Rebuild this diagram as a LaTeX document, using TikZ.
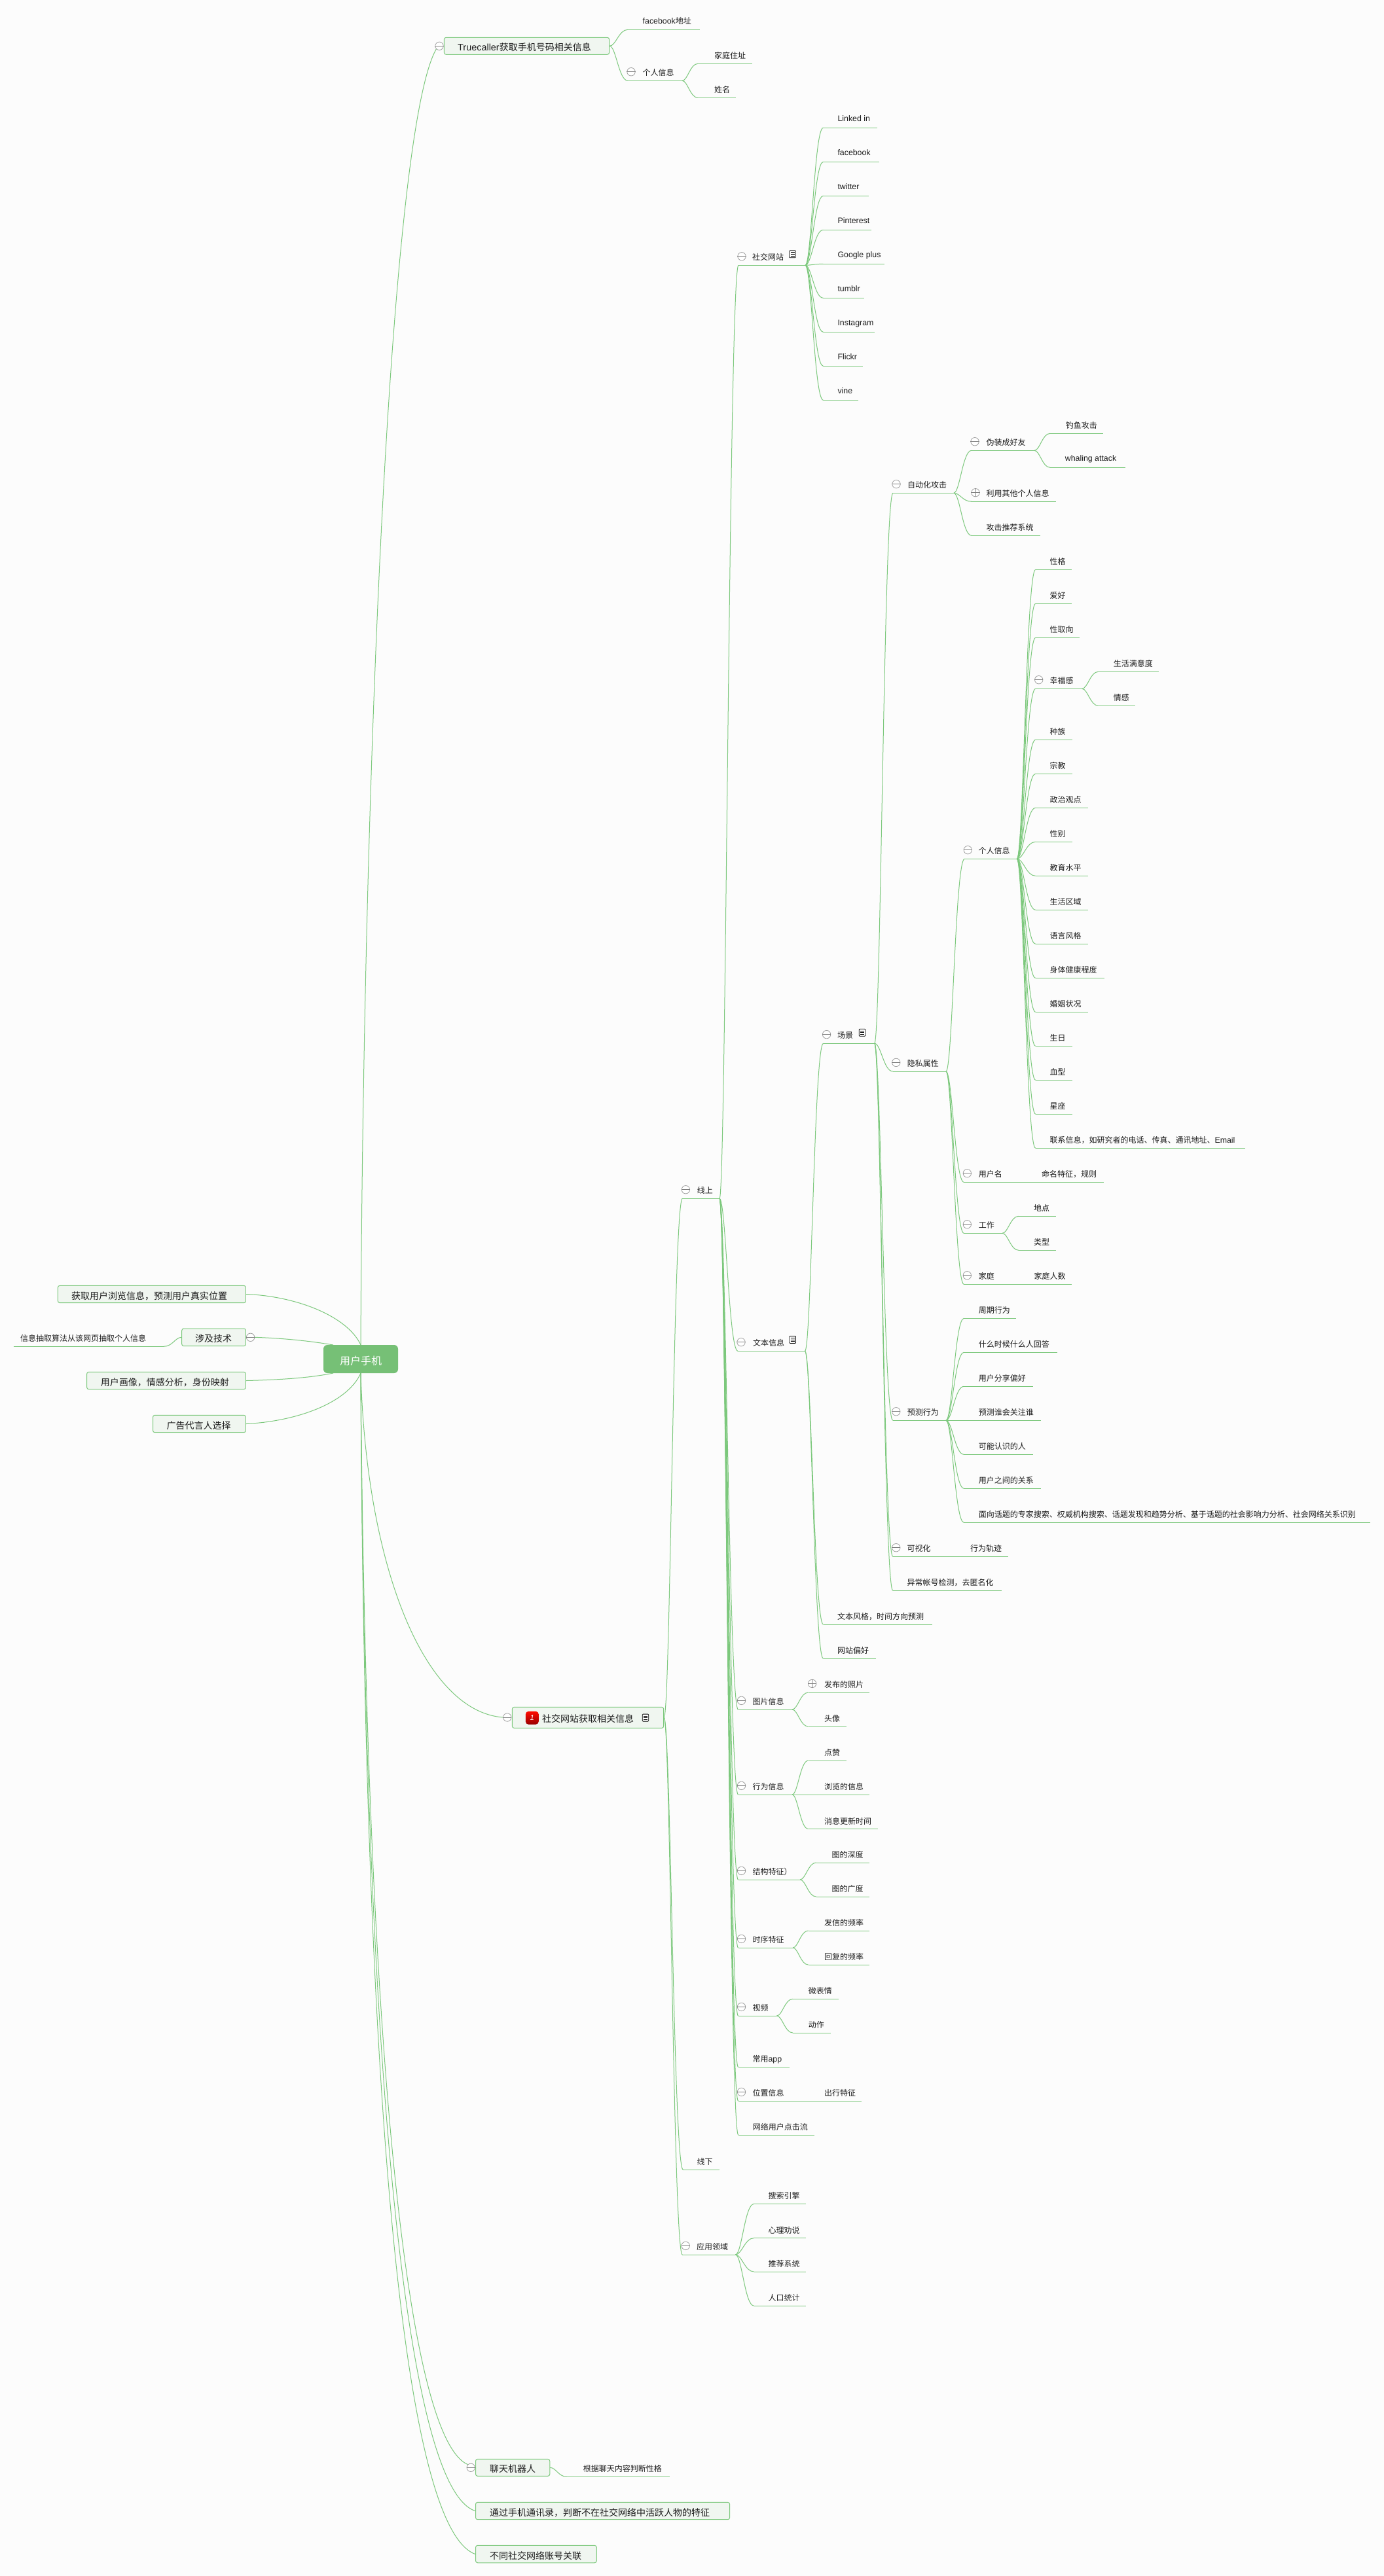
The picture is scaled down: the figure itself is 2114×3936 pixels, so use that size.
\documentclass[tikz,border=0pt]{standalone}
\usepackage{fontspec}
\usetikzlibrary{calc,fit}
\newfontfamily\cjk{Noto Sans CJK SC}
\newfontfamily\latf[Scale=1.03]{Liberation Sans}
\newcommand\lat[1]{{\latf #1}}
\definecolor{pagebg}{HTML}{FCFCFC}
\definecolor{lnk}{HTML}{7CC87C}
\definecolor{boxfill}{HTML}{F0F6F0}
\definecolor{rootfill}{HTML}{76C076}
\definecolor{ink}{HTML}{1C1C1C}
\definecolor{foldgray}{HTML}{A0A0A0}
\pgfdeclarelayer{back}
\pgfdeclarelayer{conn}
\pgfsetlayers{back,conn,main}
\tikzset{
  ul/.style={draw=lnk,line width=1pt},
  cn/.style={draw=lnk,line width=1pt},
  lab/.style={anchor=west,inner sep=0pt,font=\cjk\fontsize{12}{14}\selectfont,text=ink,text height=10pt,text depth=2pt},
  labbig/.style={anchor=west,inner sep=0pt,font=\cjk\fontsize{14}{16}\selectfont,text=ink,text height=11.5pt,text depth=2.5pt},
  boxn/.style={draw=lnk,fill=boxfill,line width=1pt,rounded corners=3pt,inner sep=0pt},
  rootn/.style={fill=rootfill,rounded corners=6pt,inner sep=0pt,minimum width=114pt,minimum height=43pt,text=white,font=\cjk\fontsize{16}{18}\selectfont,text height=18pt,text depth=0.8pt},
  foldn/.style={circle,draw=foldgray,fill=white,line width=.8pt,minimum size=12.4pt,inner sep=0pt},
  foldl/.style={draw=foldgray!80!black,line width=.8pt},
  noten/.style={draw=black,fill=white,line width=.8pt,rounded corners=1pt,minimum width=9.5pt,minimum height=11pt,inner sep=0pt},
  badge/.style={rounded corners=4.5pt,top color=red!90!orange,bottom color=red!60!black,minimum size=20pt,inner sep=0pt,text=white,font=\latf\itshape\fontsize{11}{12}\selectfont},
}
% topic with underline: [text offset]{name}{left}{right}{y}{text x}{text}
\newcommand\tp[7][11.5]{%
  \coordinate (#2-l) at (#3,#5);
  \coordinate (#2-r) at (#4,#5);
  \draw[ul] (#2-l) -- (#2-r);
  \node[lab] (#2) at (#6,{#5-#1}) {#7};
}
% framed box: {name}{x0}{x1}{y0}{y1}{text x}{text}
\newcommand\bx[7]{%
  \node[boxn,fit={(#2,#4)(#3,#5)}] (#1) {};
  \coordinate (#1-l) at (#1.west);
  \coordinate (#1-r) at (#1.east);
  \node[labbig] (#1-t) at (#6,{(#4+#5)/2+3}) {#7};
}
% curve between any two coordinates
\newcommand\cv[2]{%
  \begin{pgfonlayer}{conn}
  \draw[cn] let \p1=(#1),\p2=(#2),\n1={\x2-\x1} in
    (\p1) .. controls (\x1+0.35*\n1,\y1) and (\x1+0.5*\n1,\y2) .. (\p2);
  \end{pgfonlayer}%
}
\newcommand\conn[2]{\cv{#1-r}{#2-l}}
\newcommand\foldat[3]{%
  \node[foldn] (#1-c) at (#2,#3) {};
  \draw[foldl] (#1-c.west) -- (#1-c.east);
}
\newcommand\fold[1]{%
  \node[foldn] (#1-c) at ($(#1-l)+(5,-13.6)$) {};
  \draw[foldl] (#1-c.west) -- (#1-c.east);
}
\newcommand\unfold[1]{%
  \node[foldn] (#1-c) at ($(#1-l)+(6,-13.6)$) {};
  \draw[foldl] (#1-c.west) -- (#1-c.east);
  \draw[foldl] (#1-c.north) -- (#1-c.south);
}
\newcommand\noteicon[3]{%
  \node[noten] (#1) at (#2,#3) {};
  \draw[black,line width=.7pt] ($(#1.center)+(-3,-2.6)$) -- ($(#1.center)+(3,-2.6)$);
  \draw[black,line width=.7pt] ($(#1.center)+(-3,0)$) -- ($(#1.center)+(3,0)$);
  \draw[black,line width=.7pt] ($(#1.center)+(-3,2.6)$) -- ($(#1.center)+(3,2.6)$);
}
\begin{document}
\begin{tikzpicture}[x=1pt,y=-1pt]
\useasboundingbox (0,0) rectangle (2114,3936);
\begin{pgfonlayer}{back}
\fill[pagebg] (0,0) rectangle (2114,3936);
\end{pgfonlayer}

% root
\node[rootn] (root) at (551,2076.5) {用户手机};

% left side
\bx{a}{88.4}{375.4}{1964.3}{1990.7}{109}{获取用户浏览信息，预测用户真实位置}
\bx{b}{277.7}{375.4}{2030}{2056.7}{298}{涉及技术}
\bx{c}{132.6}{375.4}{2096.3}{2122.7}{153.6}{用户画像，情感分析，身份映射}
\bx{d}{233.5}{375.4}{2162.3}{2188.7}{254.5}{广告代言人选择}
\foldat{b}{382.6}{2043.3}
\tp{bleaf}{20.5}{250}{2057.3}{31}{信息抽取算法从该网页抽取个人信息}
\cv{b.west}{bleaf-r}
\begin{pgfonlayer}{conn}
\draw[cn] (a.east) .. controls (450,1980) and (530,2010) .. (root.north);
\draw[cn] (b-c.east) .. controls (440,2045) and (480,2050) .. (509,2055);
\draw[cn] (c.east) .. controls (440,2108) and (480,2104) .. (509,2098);
\draw[cn] (d.east) .. controls (450,2172) and (530,2145) .. (root.south);
\end{pgfonlayer}

% Truecaller
\bx{tc}{678.4}{930.6}{57.3}{83.3}{699}{\lat{Truecaller}获取手机号码相关信息}
\foldat{tc}{671}{70.3}
\begin{pgfonlayer}{conn}
\draw[cn] (root.north) .. controls (555,1200) and (595,200) .. (tc-c.south west);
\end{pgfonlayer}
\tp[13]{fbaddr}{959}{1068.6}{45.3}{981.5}{\lat{facebook}地址}
\tp{tcp}{959}{1042}{123.3}{981.5}{个人信息}
\fold{tcp}
\tp{tchome}{1066}{1149}{97.3}{1091}{家庭住址}
\tp{tcname}{1066}{1124}{149.3}{1091}{姓名}
\conn{tc}{fbaddr}\conn{tc}{tcp}\conn{tcp}{tchome}\conn{tcp}{tcname}

% social network box
\bx{sn}{782.4}{1013.7}{2608.3}{2640.4}{828}{社交网站获取相关信息}
\foldat{sn}{774.8}{2624}
\node[badge] (snbadge) at (812.8,2624.8) {1};
\noteicon{snnote}{986}{2624.6}
\begin{pgfonlayer}{conn}
\draw[cn] (root.south) .. controls (560,2400) and (650,2615) .. (sn-c.west);
\end{pgfonlayer}

% online
\tp{xs}{1042.4}{1099}{1831.3}{1064.7}{线上}\fold{xs}
\tp{xx}{1043.3}{1098.7}{3315}{1064.3}{线下}
\tp{yy}{1042.3}{1123.3}{3445}{1064}{应用领域}\fold{yy}
\conn{sn}{xs}\conn{sn}{xx}\conn{sn}{yy}

% social sites
\tp{sw}{1128}{1230}{405.3}{1149}{社交网站}\fold{sw}
\noteicon{swnote}{1210.5}{388.3}
\conn{xs}{sw}
\tp[13.5]{s1}{1257.4}{1340}{195.3}{1279.3}{\lat{Linked in}}
\tp[13.5]{s2}{1257.4}{1343}{247.3}{1279.3}{\lat{facebook}}
\tp[13.5]{s3}{1257.4}{1326.6}{299.3}{1279.3}{\lat{twitter}}
\tp[13.5]{s4}{1257.4}{1331}{351.3}{1279.3}{\lat{Pinterest}}
\tp[13.5]{s5}{1257.4}{1351}{403.3}{1279.3}{\lat{Google plus}}
\tp[13.5]{s6}{1257.4}{1320}{455.3}{1279.3}{\lat{tumblr}}
\tp[13.5]{s7}{1257.4}{1336}{507.3}{1279.3}{\lat{Instagram}}
\tp[13.5]{s8}{1257.4}{1318}{559.3}{1279.3}{\lat{Flickr}}
\tp[13.5]{s9}{1257.4}{1311}{611.3}{1279.3}{\lat{vine}}
\conn{sw}{s1}\conn{sw}{s2}\conn{sw}{s3}\conn{sw}{s4}\conn{sw}{s5}\conn{sw}{s6}\conn{sw}{s7}\conn{sw}{s8}\conn{sw}{s9}

% text info
\tp{wb}{1127}{1229.5}{2064.3}{1150}{文本信息}\fold{wb}
\noteicon{wbnote}{1210.7}{2047}
\conn{xs}{wb}
\tp{cj}{1257.6}{1335.7}{1594.2}{1279}{场景}\fold{cj}
\noteicon{cjnote}{1317}{1577.7}
\tp{wbfg}{1257.6}{1423.5}{2482.3}{1279}{文本风格，时间方向预测}
\tp{wzph}{1257.6}{1338}{2534.3}{1279}{网站偏好}
\conn{wb}{cj}\conn{wb}{wbfg}\conn{wb}{wzph}

% scenario
\tp{zdh}{1364}{1456.7}{753.3}{1386}{自动化攻击}\fold{zdh}
\tp{ys}{1363.8}{1445}{1637}{1385.7}{隐私属性}\fold{ys}
\tp{yc}{1363.8}{1445}{2170.3}{1385.7}{预测行为}\fold{yc}
\tp{ksh}{1363.8}{1424}{2378.3}{1385.5}{可视化}\fold{ksh}
\tp{ksh1}{1458}{1540.3}{2378.3}{1482}{行为轨迹}
\tp{ycz}{1363.8}{1529.7}{2430.3}{1385.5}{异常帐号检测，去匿名化}
\conn{cj}{zdh}\conn{cj}{ys}\conn{cj}{yc}\conn{cj}{ksh}\conn{cj}{ycz}\conn{ksh}{ksh1}

% automated attacks
\tp{wz}{1484}{1580}{688.3}{1506.5}{伪装成好友}\fold{wz}
\tp{ly}{1484}{1613.3}{766.3}{1506.5}{利用其他个人信息}\unfold{ly}
\tp{gj}{1484}{1589.3}{818.3}{1506.5}{攻击推荐系统}
\tp{dy}{1604}{1685.3}{662.3}{1627.7}{钓鱼攻击}
\tp[13.5]{wh}{1604}{1719.3}{714.3}{1626.7}{\lat{whaling attack}}
\conn{zdh}{wz}\conn{zdh}{ly}\conn{zdh}{gj}\conn{wz}{dy}\conn{wz}{wh}

% privacy
\tp{gr}{1473.3}{1553.3}{1312.3}{1494.3}{个人信息}\fold{gr}
\tp{yhm}{1472.3}{1543}{1806.3}{1494.6}{用户名}\fold{yhm}
\tp{yhm1}{1569}{1686}{1806.3}{1591}{命名特征，规则}
\tp{gz}{1472.3}{1531}{1884.3}{1494.6}{工作}\fold{gz}
\tp{dd}{1555.8}{1613.4}{1858.3}{1579}{地点}
\tp{lx}{1555.8}{1613.4}{1910.3}{1579}{类型}
\tp{jt}{1472.3}{1531}{1962.3}{1494.6}{家庭}\fold{jt}
\tp{jt1}{1556}{1637}{1962.3}{1579.5}{家庭人数}
\conn{ys}{gr}\conn{ys}{yhm}\conn{ys}{gz}\conn{ys}{jt}\conn{yhm}{yhm1}\conn{gz}{dd}\conn{gz}{lx}\conn{jt}{jt1}

% personal
\tp{p1}{1581.7}{1637.3}{870.3}{1603.3}{性格}
\tp{p2}{1581.7}{1637.3}{922.3}{1603.3}{爱好}
\tp{p3}{1581.7}{1649.3}{974.3}{1603.3}{性取向}
\tp{p4}{1581.7}{1652.7}{1052.3}{1603.3}{幸福感}\fold{p4}
\tp{p41}{1677.7}{1770.3}{1026.3}{1700.7}{生活满意度}
\tp{p42}{1677.7}{1734.3}{1078.3}{1700.7}{情感}
\tp{p5}{1581.7}{1637.7}{1130.3}{1603.3}{种族}
\tp{p6}{1581.7}{1637.7}{1182.3}{1603.3}{宗教}
\tp{p7}{1581.7}{1661.7}{1234.3}{1603.3}{政治观点}
\tp{p8}{1581.7}{1637.7}{1286.3}{1603.3}{性别}
\tp{p9}{1581.7}{1661.7}{1338.3}{1603.3}{教育水平}
\tp{p10}{1581.7}{1661.7}{1390.3}{1603.3}{生活区域}
\tp{p11}{1581.7}{1661.7}{1442.3}{1603.3}{语言风格}
\tp{p12}{1581.7}{1686.7}{1494.3}{1603.3}{身体健康程度}
\tp{p13}{1581.7}{1661.7}{1546.3}{1603.3}{婚姻状况}
\tp{p14}{1581.7}{1637.7}{1598.3}{1603.3}{生日}
\tp{p15}{1581.7}{1637.7}{1650.3}{1603.3}{血型}
\tp{p16}{1581.7}{1637.7}{1702.3}{1603.3}{星座}
\tp{p17}{1581.7}{1901.7}{1754.3}{1603.3}{联系信息，如研究者的电话、传真、通讯地址、\lat{Email}}
\conn{gr}{p1}\conn{gr}{p2}\conn{gr}{p3}\conn{gr}{p4}\conn{gr}{p5}\conn{gr}{p6}\conn{gr}{p7}\conn{gr}{p8}\conn{gr}{p9}
\conn{gr}{p10}\conn{gr}{p11}\conn{gr}{p12}\conn{gr}{p13}\conn{gr}{p14}\conn{gr}{p15}\conn{gr}{p16}\conn{gr}{p17}
\conn{p4}{p41}\conn{p4}{p42}

% predicted behaviour
\tp{y1}{1472.3}{1552}{2014.3}{1494.6}{周期行为}
\tp{y2}{1472.3}{1614.7}{2066.3}{1494.6}{什么时候什么人回答}
\tp{y3}{1472.3}{1577.7}{2118.3}{1494.6}{用户分享偏好}
\tp{y4}{1472.3}{1589.7}{2170.3}{1494.6}{预测谁会关注谁}
\tp{y5}{1472.3}{1577.7}{2222.3}{1494.6}{可能认识的人}
\tp{y6}{1472.3}{1589.7}{2274.3}{1494.6}{用户之间的关系}
\tp{y7}{1472.3}{2093}{2326.3}{1494.6}{面向话题的专家搜索、权威机构搜索、话题发现和趋势分析、基于话题的社会影响力分析、社会网络关系识别}
\conn{yc}{y1}\conn{yc}{y2}\conn{yc}{y3}\conn{yc}{y4}\conn{yc}{y5}\conn{yc}{y6}\conn{yc}{y7}

% other online items
\tp{tp}{1127.5}{1210}{2612}{1149.4}{图片信息}\fold{tp}
\tp{tp1}{1234.6}{1328.4}{2586}{1258.8}{发布的照片}\unfold{tp1}
\tp{tp2}{1234.6}{1292.7}{2638}{1258.8}{头像}
\tp{xw}{1127.5}{1210}{2742}{1149.4}{行为信息}\fold{xw}
\tp{xw1}{1234.6}{1292.7}{2690}{1258.8}{点赞}
\tp{xw2}{1234.6}{1328.4}{2742}{1258.8}{浏览的信息}
\tp{xw3}{1234.6}{1341.3}{2794.5}{1258.8}{消息更新时间}
\tp{jg}{1127.5}{1222}{2872}{1149.4}{结构特征）}\fold{jg}
\tp{jg1}{1246.7}{1328.4}{2846}{1270.4}{图的深度}
\tp{jg2}{1246.7}{1328.4}{2898}{1270.4}{图的广度}
\tp{sx}{1127.5}{1211}{2976}{1149.4}{时序特征}\fold{sx}
\tp{sx1}{1234.6}{1328.4}{2950}{1258.8}{发信的频率}
\tp{sx2}{1234.6}{1328.4}{3002}{1258.8}{回复的频率}
\tp{sp}{1127.5}{1186.4}{3080}{1149.4}{视频}\fold{sp}
\tp{sp1}{1211}{1280.6}{3054.3}{1234.6}{微表情}
\tp{sp2}{1211}{1268.6}{3106}{1234.6}{动作}
\tp{app}{1127.5}{1205.6}{3158.3}{1149.4}{常用\lat{app}}
\tp{wz2}{1127.5}{1210}{3210}{1149.4}{位置信息}\fold{wz2}
\tp{wz21}{1234.6}{1316.3}{3210}{1258.8}{出行特征}
\tp{dj}{1127.7}{1244.3}{3262}{1149.7}{网络用户点击流}
\conn{xs}{tp}\conn{xs}{xw}\conn{xs}{jg}\conn{xs}{sx}\conn{xs}{sp}\conn{xs}{app}\conn{xs}{wz2}\conn{xs}{dj}
\conn{tp}{tp1}\conn{tp}{tp2}\conn{xw}{xw1}\conn{xw}{xw2}\conn{xw}{xw3}
\conn{jg}{jg1}\conn{jg}{jg2}\conn{sx}{sx1}\conn{sx}{sx2}\conn{sp}{sp1}\conn{sp}{sp2}\conn{wz2}{wz21}

% application fields
\tp{yy1}{1151.7}{1231.3}{3367.4}{1173.3}{搜索引擎}
\tp{yy2}{1151.7}{1231.3}{3419.6}{1173.3}{心理劝说}
\tp{yy3}{1151.7}{1231.3}{3471}{1173.3}{推荐系统}
\tp{yy4}{1151.7}{1231.3}{3523.2}{1173.3}{人口统计}
\conn{yy}{yy1}\conn{yy}{yy2}\conn{yy}{yy3}\conn{yy}{yy4}

% bottom
\bx{bot}{726.5}{839.8}{3757.3}{3783.3}{748}{聊天机器人}
\foldat{bot}{719.2}{3770.3}
\tp{botl}{865.8}{1022.7}{3784.3}{890.7}{根据聊天内容判断性格}
\conn{bot}{botl}
\bx{tx}{726.5}{1114.6}{3823.3}{3849.7}{748}{通过手机通讯录，判断不在社交网络中活跃人物的特征}
\bx{dif}{726.5}{911.3}{3889.3}{3915.7}{748}{不同社交网络账号关联}
\begin{pgfonlayer}{conn}
\draw[cn] (root.south) .. controls (558,3000) and (610,3720) .. (bot-c.north west);
\draw[cn] (root.south) .. controls (556,3050) and (610,3800) .. (tx.west);
\draw[cn] (root.south) .. controls (556,3100) and (606,3860) .. (dif.west);
\end{pgfonlayer}
\end{tikzpicture}
\end{document}
